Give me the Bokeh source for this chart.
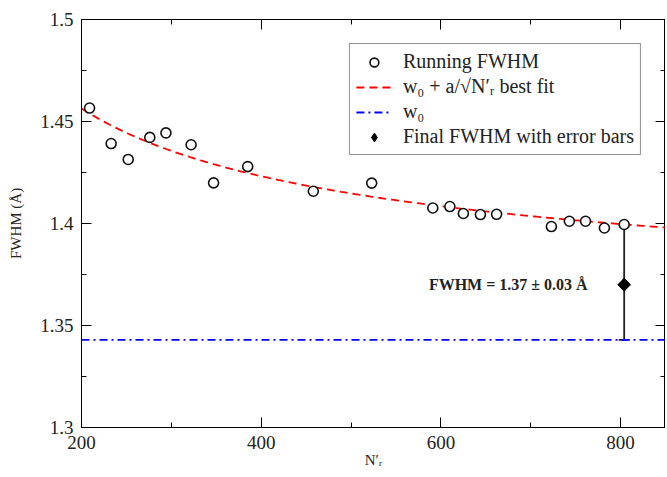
from bokeh.plotting import figure
from bokeh.models import (ColumnDataSource, LinearAxis, SingleIntervalTicker, CustomJSTickFormatter,
                          Legend, LegendItem, Range1d, Whisker, TeeHead)
from bokeh.embed import file_html
from bokeh.resources import INLINE
from bokeh.core.properties import value
import numpy as np

# ---- data ----
n_r = [209, 233, 252, 276, 294, 322, 347, 385, 458, 523, 591, 610, 625, 644, 662,
       723, 743, 761, 782, 804]
fwhm = [1.4566, 1.4392, 1.4314, 1.4422, 1.4444, 1.4386, 1.4199, 1.4279, 1.4158, 1.4198,
        1.4076, 1.4083, 1.4049, 1.4044, 1.4045, 1.3985, 1.4011, 1.4011, 1.3978, 1.3995]
final_n = [804]
final_fwhm = [1.370]
final_lower = [1.343]
final_upper = [1.3995]
w0 = 1.343          # asymptote
a_fit = 1.604       # fit coefficient

SERIF = "Liberation Serif"

p = figure(width=665, height=477, output_backend="svg", toolbar_location=None,
           x_range=Range1d(200, 850), y_range=Range1d(1.3, 1.5),
           min_border_left=81, min_border_right=0, min_border_top=19, min_border_bottom=50)
p.xgrid.visible = False
p.ygrid.visible = False
p.outline_line_color = "black"
p.outline_line_width = 1
p.background_fill_color = "white"

# fit curve
xf = np.linspace(200, 850, 300)
yf = w0 + a_fit / np.sqrt(xf)
r_fit = p.line(xf, yf, line_color="#ff0000", line_width=1.8, line_dash="8 5")

# w0 line
r_w0 = p.line([200, 850], [w0, w0], line_color="#0000ff", line_width=1.8, line_dash="8 4 2 4")

# error bar
src_f = ColumnDataSource(dict(x=final_n, y=final_fwhm, lo=final_lower, hi=final_upper))
wh = Whisker(source=src_f, base="x", lower="lo", upper="hi", line_color="#222222", line_width=1.8,
             lower_head=TeeHead(size=11, line_color="#222222", line_width=1.8),
             upper_head=TeeHead(size=11, line_color="#222222", line_width=1.8))
p.add_layout(wh)

# running points
r_pts = p.scatter(n_r, fwhm, marker="circle", size=10, fill_color="white",
                  line_color="#111111", line_width=1.6)

# diamond glyph used for the legend (hidden under the rotated square in the plot)
r_fin_leg = p.scatter("x", "y", source=src_f, marker="diamond", size=13,
                      fill_color="black", line_color="black")
r_fin = p.scatter("x", "y", source=src_f, marker="square", angle=np.pi / 4, size=9,
                  fill_color="black", line_color="black")

# annotation
p.text(x=[675], y=[1.370], text=["FWHM = 1.37 ± 0.03 Å"], text_font=value(SERIF),
       text_font_style="bold", text_font_size="16px", text_align="center",
       text_baseline="middle", text_color="#222222")

fmt = CustomJSTickFormatter(code="return (Math.round(tick*100)/100).toString();")
blank = CustomJSTickFormatter(code="return '';")

def style_axis(ax, labels=True):
    ax.major_tick_in = 10
    ax.major_tick_out = 0
    ax.minor_tick_in = 5
    ax.minor_tick_out = 0
    ax.axis_line_color = "black"
    ax.major_tick_line_color = "black"
    ax.minor_tick_line_color = "black"
    ax.major_label_text_font = SERIF
    ax.major_label_text_font_size = "19px"
    ax.major_label_text_color = "#222222"
    ax.axis_label_text_font = SERIF
    ax.axis_label_text_font_style = "normal"
    ax.axis_label_text_font_size = "15px"
    ax.axis_label_text_color = "#222222"
    if not labels:
        ax.formatter = blank
        ax.major_label_standoff = 0

xaxis = p.xaxis[0]
xaxis.ticker = SingleIntervalTicker(interval=200, num_minor_ticks=2)
xaxis.axis_label = "N′ᵣ"
style_axis(xaxis)
xaxis.major_label_standoff = 8
xaxis.axis_label_standoff = 0

yaxis = p.yaxis[0]
yaxis.ticker = SingleIntervalTicker(interval=0.05, num_minor_ticks=2)
yaxis.formatter = fmt
yaxis.axis_label = "FWHM (Å)"
style_axis(yaxis)
yaxis.major_label_standoff = 8
yaxis.axis_label_standoff = 13

top = LinearAxis(ticker=SingleIntervalTicker(interval=200, num_minor_ticks=2))
style_axis(top, labels=False)
p.add_layout(top, "above")
right = LinearAxis(ticker=SingleIntervalTicker(interval=0.05, num_minor_ticks=2))
style_axis(right, labels=False)
p.add_layout(right, "right")

legend = Legend(items=[
    LegendItem(label="Running FWHM", renderers=[r_pts]),
    LegendItem(label="w₀ + a/√N′ᵣ best fit", renderers=[r_fit]),
    LegendItem(label="w₀", renderers=[r_w0]),
    LegendItem(label="Final FWHM with error bars", renderers=[r_fin_leg]),
], location="top_right")
legend.label_text_font = SERIF
legend.label_text_font_size = "20px"
legend.label_text_color = "#222222"
legend.border_line_color = "#222222"
legend.border_line_width = 1
legend.glyph_width = 36
legend.glyph_height = 22
legend.label_height = 22
legend.spacing = 2
legend.padding = 6
legend.margin = 24
legend.label_standoff = 11
legend.background_fill_alpha = 1
p.add_layout(legend, "center")

open("out.html", "w").write(file_html(p, INLINE))
